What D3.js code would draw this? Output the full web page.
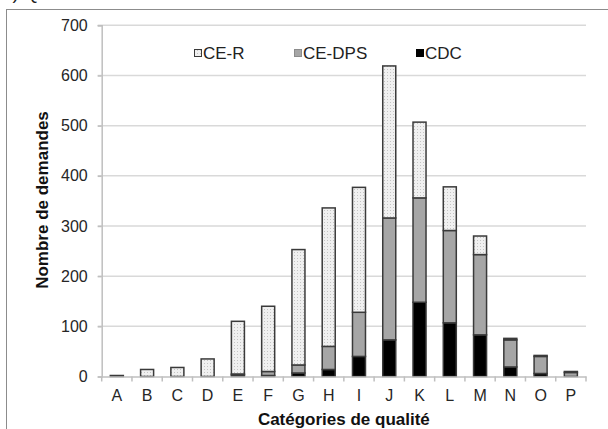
<!DOCTYPE html>
<html>
<head>
<meta charset="utf-8">
<script src="https://cdn.jsdelivr.net/npm/d3@7"></script>
<style>
  body { margin: 0; background: #fff; }
  text { font-family: "Liberation Sans", Arial, sans-serif; }
</style>
</head>
<body>
<div id="canvas"></div>
<script>
const categories = ['A', 'B', 'C', 'D', 'E', 'F', 'G', 'H', 'I', 'J', 'K', 'L', 'M', 'N', 'O', 'P'];
const cdc = [0, 0, 0, 0, 3, 2, 7, 14, 40, 73, 148, 107, 83, 19, 6, 0];
const ceDps = [0, 0, 0, 0, 2, 8, 16, 46, 88, 243, 208, 184, 160, 54, 34, 8];
const ceR = [2, 14, 18, 35, 105, 130, 230, 276, 249, 303, 151, 87, 37, 3, 2, 2];
const seriesNames = ['CDC', 'CE-DPS', 'CE-R'];
const yTicks = [0, 100, 200, 300, 400, 500, 600, 700];

const w = 608;
const h = 429;
const plotL = 101.7, plotR = 586, plotT = 25.3, plotB = 376.5;

const rows = categories.map((c, i) => ({cat: c, 'CDC': cdc[i], 'CE-DPS': ceDps[i], 'CE-R': ceR[i]}));
const stacked = d3.stack().keys(seriesNames)(rows);

const xScale = d3.scaleBand()
  .domain(categories)
  .range([plotL, plotR])
  .paddingInner(0.57)
  .paddingOuter(0.285);

const yScale = d3.scaleLinear()
  .domain([0, 700])
  .range([plotB, plotT]);

const svg = d3.select('#canvas')
  .append('svg')
  .attr('width', w)
  .attr('height', h);

// dotted fill used by CE-R
const defs = svg.append('defs');
const pat = defs.append('pattern')
  .attr('id', 'dots')
  .attr('width', 3)
  .attr('height', 3)
  .attr('patternUnits', 'userSpaceOnUse');
pat.append('rect').attr('width', 3).attr('height', 3).attr('fill', '#f0f0f0');
pat.append('rect').attr('width', 1).attr('height', 1).attr('fill', '#c4c4c4');

const fills = {'CDC': '#000', 'CE-DPS': '#a6a6a6', 'CE-R': 'url(#dots)'};

// title, cut by the top edge as in the source picture
svg.append('text')
  .attr('x', 2)
  .attr('y', -1)
  .style('font-size', '19px')
  .attr('fill', '#222')
  .text('b) Qualité des demandes');

// frame
svg.append('rect')
  .attr('x', 6.5)
  .attr('y', 9.5)
  .attr('width', 620)
  .attr('height', 440)
  .attr('fill', 'none')
  .attr('stroke', '#8c8c8c')
  .attr('stroke-width', 1);

// gridlines
svg.append('g')
  .selectAll('line')
  .data(yTicks.filter(d => d > 0))
  .enter()
  .append('line')
  .attr('x1', plotL - 4)
  .attr('x2', plotR)
  .attr('y1', d => yScale(d))
  .attr('y2', d => yScale(d))
  .attr('stroke', '#d9d9d9')
  .attr('stroke-width', 1.5);

// y axis
const yAxis = d3.axisLeft(yScale).tickValues(yTicks).tickSize(4).tickPadding(10);
const gy = svg.append('g')
  .attr('id', 'y-axis')
  .attr('transform', 'translate(' + plotL + ', 0)')
  .call(yAxis);
gy.select('.domain').attr('stroke', '#bfbfbf').attr('stroke-width', 1.5);
gy.selectAll('.tick line').attr('stroke', '#bfbfbf').attr('stroke-width', 1.5);
gy.selectAll('.tick text')
  .style('font-size', '16px')
  .style('font-family', '"Liberation Sans", Arial, sans-serif')
  .attr('fill', '#262626');

// bars
svg.append('g')
  .selectAll('g')
  .data(stacked)
  .enter()
  .append('g')
  .attr('fill', d => fills[d.key])
  .selectAll('rect')
  .data(d => d.filter(s => s[1] - s[0] > 0))
  .enter()
  .append('rect')
  .attr('x', d => xScale(d.data.cat))
  .attr('y', d => yScale(d[1]))
  .attr('width', xScale.bandwidth())
  .attr('height', d => yScale(d[0]) - yScale(d[1]))
  .attr('stroke', '#3a3a3a')
  .attr('stroke-width', 1.5);

// x axis: labels from the band scale, tick marks at band edges
const xAxis = d3.axisBottom(xScale).tickSize(0).tickPadding(13);
const gx = svg.append('g')
  .attr('id', 'x-axis')
  .attr('transform', 'translate(0, ' + plotB + ')')
  .call(xAxis);
gx.select('.domain').attr('stroke', '#bfbfbf').attr('stroke-width', 1.5);
gx.selectAll('.tick text')
  .style('font-size', '16px')
  .style('font-family', '"Liberation Sans", Arial, sans-serif')
  .attr('fill', '#262626');

const edges = categories.map(c => xScale(c) - xScale.step() * xScale.paddingInner() / 2).concat([plotR]);
gx.selectAll('.edge')
  .data(edges)
  .enter()
  .append('line')
  .attr('class', 'edge')
  .attr('x1', d => d)
  .attr('x2', d => d)
  .attr('y1', 0)
  .attr('y2', 5)
  .attr('stroke', '#bfbfbf')
  .attr('stroke-width', 1.5);

// axis titles
svg.append('text')
  .attr('x', (plotL + plotR) / 2)
  .attr('y', 425)
  .style('text-anchor', 'middle')
  .style('font-size', '17px')
  .style('font-weight', 'bold')
  .attr('fill', '#111')
  .text('Catégories de qualité');

svg.append('text')
  .attr('transform', 'translate(48, ' + 200 + ') rotate(-90)')
  .style('text-anchor', 'middle')
  .style('font-size', '17px')
  .style('font-weight', 'bold')
  .attr('fill', '#111')
  .text('Nombre de demandes');

// legend
const legendItems = [
  {name: 'CE-R', x: 194, fill: 'url(#dots)', stroke: '#3a3a3a'},
  {name: 'CE-DPS', x: 294, fill: '#a6a6a6', stroke: '#8c8c8c'},
  {name: 'CDC', x: 416, fill: '#000', stroke: '#000'}
];
const lg = svg.append('g').selectAll('g')
  .data(legendItems)
  .enter()
  .append('g')
  .attr('transform', d => 'translate(' + d.x + ', 53)');
lg.append('rect')
  .attr('x', 0.5)
  .attr('y', -3.5)
  .attr('width', 7)
  .attr('height', 7)
  .attr('fill', d => d.fill)
  .attr('stroke', d => d.stroke)
  .attr('stroke-width', 1);
lg.append('text')
  .attr('x', 9)
  .attr('y', 6)
  .style('font-size', '17px')
  .attr('fill', '#222')
  .text(d => d.name);
</script>
</body>
</html>
